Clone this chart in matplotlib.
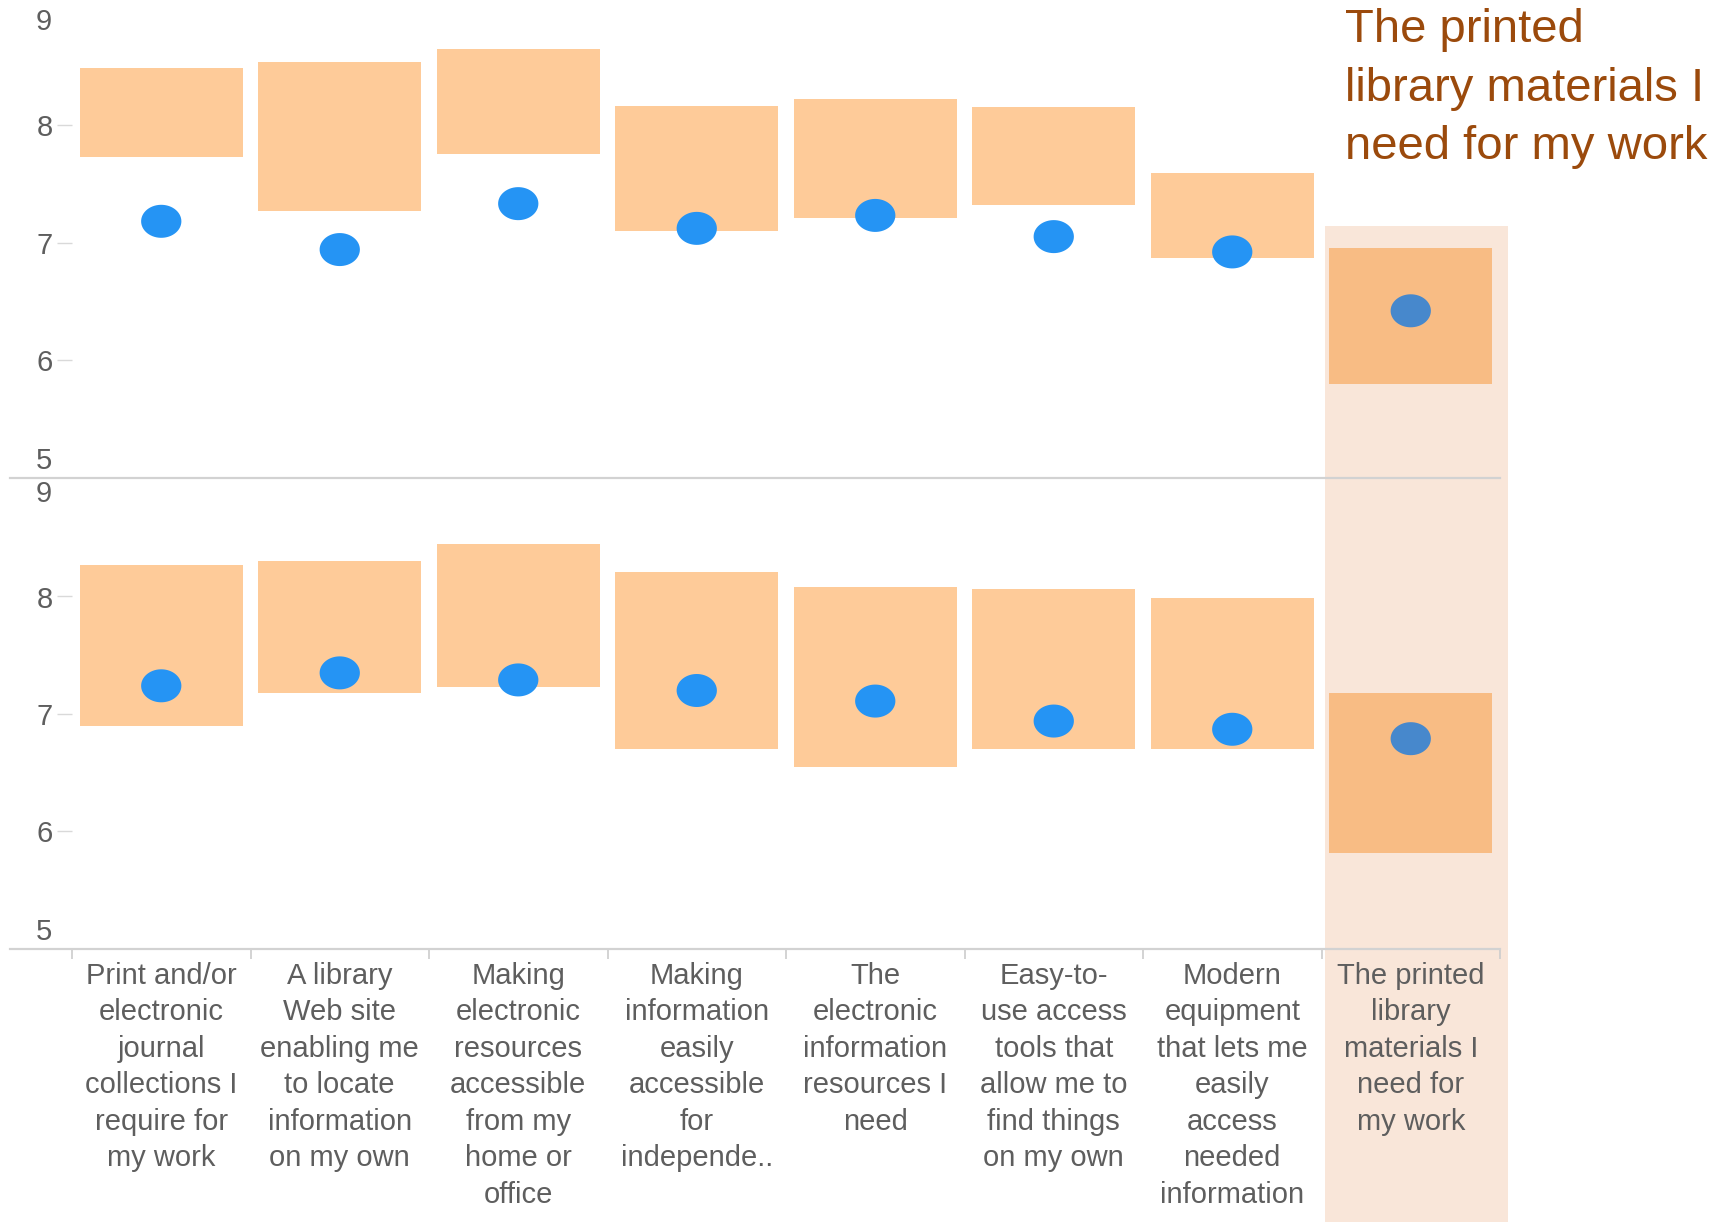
import matplotlib
matplotlib.use("Agg")
import matplotlib.pyplot as plt
from matplotlib.path import Path
from matplotlib.patches import Rectangle
from matplotlib.lines import Line2D
import numpy as np

plt.rcParams['font.family'] = ['Liberation Sans', 'DejaVu Sans']

categories = [
    "Print and/or\nelectronic\njournal\ncollections I\nrequire for\nmy work",
    "A library\nWeb site\nenabling me\nto locate\ninformation\non my own",
    "Making\nelectronic\nresources\naccessible\nfrom my\nhome or\noffice",
    "Making\ninformation\neasily\naccessible\nfor\nindepende..",
    "The\nelectronic\ninformation\nresources I\nneed",
    "Easy-to-\nuse access\ntools that\nallow me to\nfind things\non my own",
    "Modern\nequipment\nthat lets me\neasily\naccess\nneeded\ninformation",
    "The printed\nlibrary\nmaterials I\nneed for\nmy work",
]
highlight_title = "The printed\nlibrary materials I\nneed for my work"

# upper panel: range (low/high) and mean score per item
upper_low = [7.73, 7.27, 7.75, 7.10, 7.21, 7.32, 6.87, 5.80]
upper_high = [8.48, 8.53, 8.64, 8.16, 8.22, 8.15, 7.59, 6.95]
upper_mean = [7.18, 6.94, 7.33, 7.12, 7.23, 7.05, 6.92, 6.42]

# lower panel
lower_low = [6.90, 7.18, 7.23, 6.70, 6.55, 6.70, 6.70, 5.82]
lower_high = [8.27, 8.30, 8.45, 8.21, 8.08, 8.06, 7.99, 7.18]
lower_mean = [7.24, 7.35, 7.29, 7.20, 7.11, 6.94, 6.87, 6.79]

y_ticks = [6, 7, 8]
y_edge_labels = [5, 9]
highlight_idx = 7

W, H = 1727, 1222
fig = plt.figure(figsize=(W / 100, H / 100), dpi=100)


def fx(px):
    return px / W


def fy(py):
    return 1 - py / H


box_col = '#fecb99'
box_hl = '#f8bc84'
dot_col = '#2594f4'
dot_hl = '#4788cc'
band_col = '#f9e6d9'
grid_col = '#d2d2d2'
txt_col = '#5e5e5e'

# highlight band behind the selected column
fig.patches.append(Rectangle((fx(1325), fy(1222)), fx(1508) - fx(1325), fy(226) - fy(1222),
                             transform=fig.transFigure, facecolor=band_col,
                             edgecolor='none', zorder=-5))

# ellipse marker for the means
t = np.linspace(0, 2 * np.pi, 60)
ell = Path(np.column_stack([np.cos(t), 0.82 * np.sin(t)]), closed=True)

ax_left, ax_right = 72, 1500
panels = [
    (7, 478, upper_low, upper_high, upper_mean),
    (479, 949, lower_low, lower_high, lower_mean),
]
x = np.arange(len(categories)) + 0.5
axes = []
for top_px, bot_px, lo, hi, mn in panels:
    ax = fig.add_axes([fx(ax_left), fy(bot_px), fx(ax_right) - fx(ax_left), fy(top_px) - fy(bot_px)])
    ax.set_facecolor('none')
    ax.set_xlim(0, len(categories))
    ax.set_ylim(5, 9)
    lo = np.array(lo)
    hi = np.array(hi)
    colors = [box_hl if i == highlight_idx else box_col for i in range(len(categories))]
    ax.bar(x, hi - lo, bottom=lo, width=0.915, color=colors, edgecolor='none', zorder=2)
    dcols = [dot_hl if i == highlight_idx else dot_col for i in range(len(categories))]
    ax.scatter(x, mn, s=29 ** 2, marker=ell, c=dcols, edgecolors='none', zorder=3)
    for s in ax.spines.values():
        s.set_visible(False)
    ax.set_yticks(y_ticks)
    ax.set_yticklabels([str(v) for v in y_ticks])
    ax.tick_params(axis='y', length=11, width=1, color='#d9d9d9', pad=3,
                   labelsize=21, labelcolor=txt_col)
    for v, dy in zip(y_edge_labels, [17, -15]):
        ax.annotate(str(v), xy=(0, v), xycoords=('axes fraction', 'data'),
                    xytext=(-14.5, dy * 0.72), textcoords='offset points',
                    ha='right', va='center', fontsize=21, color=txt_col)
    ax.set_xticks([])
    axes.append(ax)

# category labels under the lower panel
axb = axes[1]
axb.set_xticks(np.arange(len(categories) + 1))
axb.set_xticklabels([''] * (len(categories) + 1))
axb.tick_params(axis='x', length=7, width=1.2, color='#cccccc', direction='out')
axb.set_xticks(x, minor=True)
axb.set_xticklabels(categories, minor=True, fontsize=21, color=txt_col, linespacing=1.39)
axb.tick_params(axis='x', which='minor', length=0, pad=9)

# separator / baseline rules
for py in (478, 949):
    fig.add_artist(Line2D([fx(10), fx(1500)], [fy(py), fy(py)], color=grid_col, lw=1.6,
                          transform=fig.transFigure, zorder=1))

fig.text(fx(1345), fy(8), highlight_title, ha='left', va='top', fontsize=34,
         color='#9b4a0c', linespacing=1.43)

fig.savefig('out.png', dpi=100)
